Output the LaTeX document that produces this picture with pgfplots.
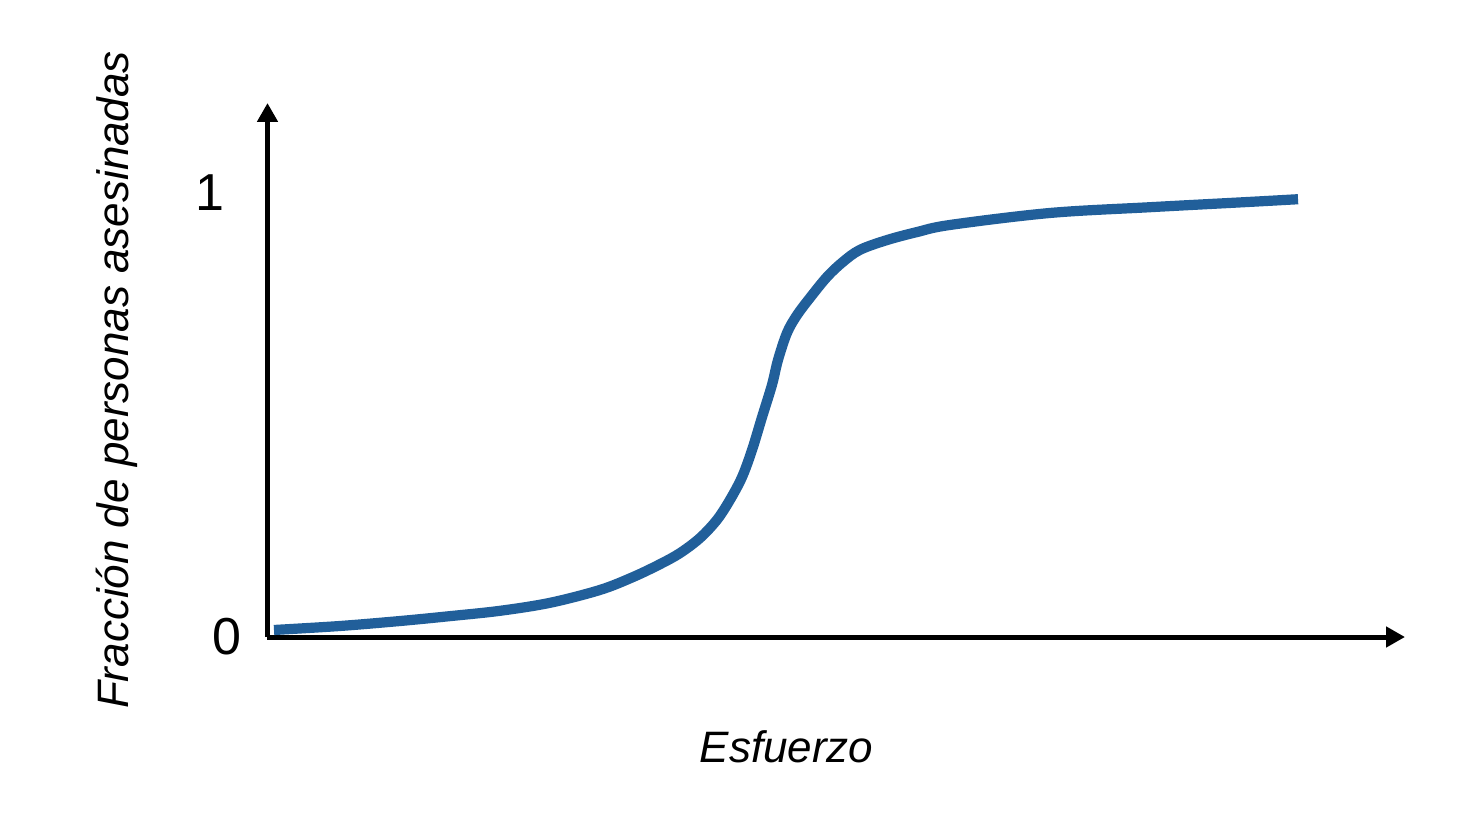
\documentclass[border=0pt]{standalone}
\usepackage{pgfplots}
\pgfplotsset{compat=1.18}
\usepackage{fontspec}
\setmainfont{Liberation Sans}
\usetikzlibrary{arrows.meta}
\definecolor{curve}{RGB}{33,95,154}
\begin{document}
\begin{tikzpicture}
\path[use as bounding box] (-133.75pt,-93.5pt) rectangle (601.25pt,318.5pt);
\begin{axis}[
  at={(0,0)}, anchor=origin,
  scale only axis, width=568.75pt, height=267pt,
  xmin=0, xmax=1137.5, ymin=0, ymax=1.2027,
  axis lines=left,
  axis line style={line width=2.5pt, -{Triangle[width=10pt,length=9.5pt]}},
  xtick=\empty,
  ytick={0,1}, yticklabels={0,{1\kern8.5pt}},
  major tick length=0pt,
  yticklabel style={font=\fontsize{26}{30}\selectfont, anchor=east, xshift=-9.5pt},
  clip=false,
  xlabel={Esfuerzo},
  xlabel style={at={(axis cs:519,0)}, anchor=center, yshift=-55pt, font=\fontsize{22}{26}\selectfont\itshape},
  ylabel={Fracción de personas asesinadas},
  ylabel style={at={(axis cs:0,0.579)}, anchor=center, yshift=75.5pt, font=\fontsize{22}{26}\selectfont\itshape},
]
\addplot[curve, line width=5.1pt, smooth, tension=0.55] coordinates {
(6.5,0.0158) (72.5,0.0248) (132.5,0.036) (182.5,0.047) (232.5,0.059)
(282.5,0.077) (332.5,0.106) (365.5,0.135) (392.5,0.164) (412.5,0.189)
(432.5,0.223) (449.5,0.264) (462.5,0.309) (474.5,0.360) (484.5,0.421)
(494.5,0.495) (504.5,0.568) (510.5,0.624) (519.5,0.685) (529.5,0.725)
(542.5,0.764) (559.5,0.811) (575.5,0.845) (592.5,0.872) (619.5,0.894)
(649.5,0.912) (682.5,0.928) (782.5,0.955) (882.5,0.968) (982.5,0.980)
(1030.5,0.986)
};
\end{axis}
\end{tikzpicture}
\end{document}
